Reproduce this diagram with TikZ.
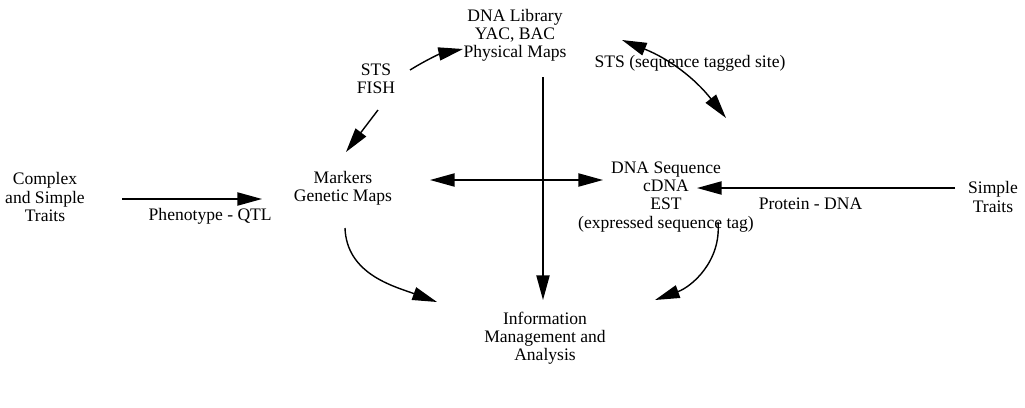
\documentclass[tikz,border=0pt]{standalone}
\usepackage{fontspec}
\setmainfont{Liberation Serif}
\usetikzlibrary{arrows.meta, positioning, calc}
\tikzset{
    >={Triangle[length=14pt, width=7.5pt]},
    % Text blocks
    item/.style={align=center, inner sep=1pt, font=\fontsize{10}{10.3}\selectfont},
    lbl/.style={inner sep=1pt, font=\fontsize{10}{10.3}\selectfont},
    % Connectors
    flow/.style={->, line width=0.8pt},
    biflow/.style={<->, line width=0.8pt}
}

\begin{document}
\begin{tikzpicture}[x=0.02cm, y=0.02cm]
\useasboundingbox (0,0) rectangle (1025,407);

\node[item] (lib) at (515,372) {DNA Library\\YAC, BAC\\Physical Maps};
\node[item] (stsfish) at (376,328) {STS\\FISH};
\node[item] (mark) at (343,219) {Markers\\Genetic Maps};
\node[item] (cplx) at (45,210) {Complex\\and Simple\\Traits};
\node[item] (seq) at (666,210) {DNA Sequence\\cDNA\\EST\\(expressed sequence tag)};
\node[item] (simp) at (993,210) {Simple\\Traits};
\node[item] (info) at (545,69) {Information\\Management and\\Analysis};
\node[lbl] (ststag) at (690,344) {STS (sequence tagged site)};

% traits into the two maps
\draw[flow] ([shift={(77,-2)}]cplx.center) -- node[lbl, below=4pt, pos=0.63] {Phenotype - QTL}
    ([shift={(-81,-11)}]mark.center);
\draw[flow] ([shift={(-38,9)}]simp.center) -- node[lbl, below=4pt, pos=0.56] {Protein - DNA}
    ([shift={(31,9)}]seq.center);

% the cross in the middle
\draw[biflow] ([shift={(87,8)}]mark.center) -- ([shift={(-63,17)}]seq.center);
\draw[flow] ([shift={(28,-42)}]lib.center) -- ([shift={(-2,38)}]info.center);

% round the library
\draw[flow] ([shift={(34,9)}]stsfish.center) to[bend left=10] ([shift={(-52,-14)}]lib.center);
\draw[flow] ([shift={(2,-31)}]stsfish.center) -- ([shift={(3,36)}]mark.center);
\draw[biflow] ([shift={(107,-5)}]lib.center) to[bend left=15] ([shift={(60,79)}]seq.center);

% down to the analysis
\draw[flow] ([shift={(2,-40)}]mark.center) to[out=-88, in=160] ([shift={(-108,36)}]info.center);
\draw[flow] ([shift={(52,-25)}]seq.center) to[out=-85, in=20] ([shift={(110,38)}]info.center);

\end{tikzpicture}
\end{document}
